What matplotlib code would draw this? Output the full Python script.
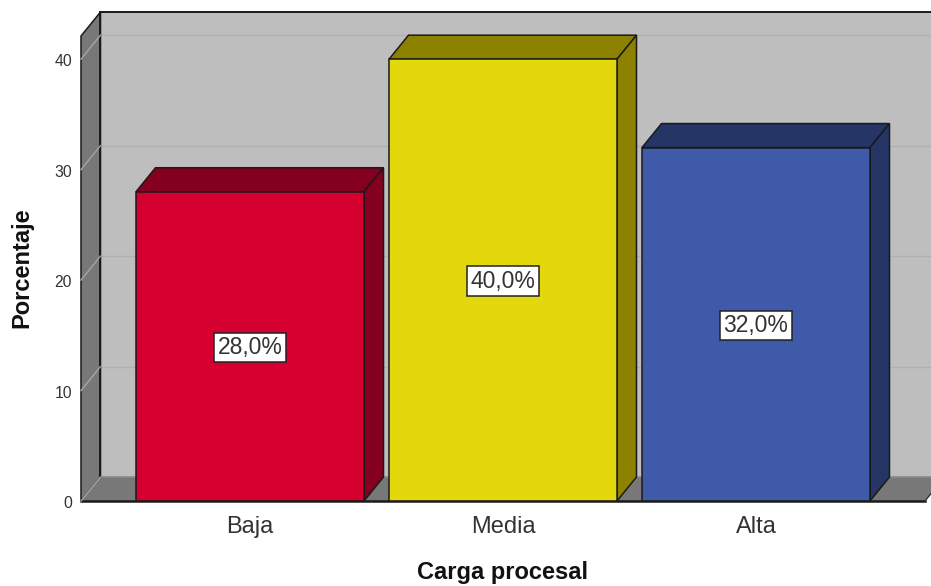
import matplotlib
matplotlib.use('Agg')
import matplotlib.pyplot as plt
from matplotlib.patches import Polygon
from matplotlib.transforms import ScaledTranslation

plt.rcParams['font.family'] = ['Liberation Sans', 'DejaVu Sans']

categories = ['Baja', 'Media', 'Alta']
percentages = [28.0, 40.0, 32.0]
bar_labels = ['28,0%', '40,0%', '32,0%']
y_ticks = [0, 10, 20, 30, 40]

front_colors = ['#D5002F', '#E3D80C', '#3E5AA8']
dark_colors = ['#850020', '#8C8200', '#253565']

W, H = 931, 586
fig = plt.figure(figsize=(W / 100, H / 100), dpi=100)
ax = fig.add_axes([81 / W, (H - 501) / H, 844 / W, 465 / H])

x0, x1 = -0.668, 2.668
y_top = 42.1
ax.set_xlim(x0, x1)
ax.set_ylim(0, y_top)

# depth of the fake 3d box, in data units
dx = 19.5 / 253
dy = 24 / 11.04
bar_w = 228 / 253
edge = '#1A1A1A'


def poly(pts, color, z, lw=1.1, ec=edge):
    ax.add_patch(Polygon(pts, closed=True, facecolor=color, edgecolor=ec,
                         linewidth=lw, zorder=z, clip_on=False, joinstyle='miter'))


# walls and floor
right = x1 + 2 * dx
poly([(x0 + dx, dy), (right, dy), (right, y_top + dy), (x0 + dx, y_top + dy)], '#BEBEBE', 1, lw=0)
poly([(x0, 0), (x0 + dx, dy), (x0 + dx, y_top + dy), (x0, y_top)], '#787878', 2)
poly([(x0, 0), (x1, 0), (x1 + dx, dy), (x0 + dx, dy)], '#787878', 2, lw=0)
ax.plot([x0, x1], [0, 0], color=edge, lw=1.8, zorder=3, clip_on=False)
ax.plot([x1, x1 + dx], [0, dy], color='#333333', lw=1.0, zorder=3, clip_on=False)
ax.plot([x0 + dx, right], [dy, dy], color='#8A8A8A', lw=1.2, zorder=3, clip_on=False)
ax.plot([x0 + dx, x0 + dx], [dy, y_top + dy], color=edge, lw=1.4, zorder=3, clip_on=False)
ax.plot([x0 + dx, right], [y_top + dy, y_top + dy], color=edge, lw=1.4, zorder=3, clip_on=False)

# gridlines on both walls
for t in y_ticks:
    ax.plot([x0, x0 + dx], [t, t + dy], color='#A5A5A5', lw=1.0, zorder=3, clip_on=False)
    if t > 0:
        ax.plot([x0 + dx, right], [t + dy, t + dy], color='#B0B0B0', lw=1.0, zorder=1.5, clip_on=False)

positions = range(len(categories))
for i, v in enumerate(percentages):
    left = i - bar_w / 2
    rgt = i + bar_w / 2
    poly([(left, v), (rgt, v), (rgt + dx, v + dy), (left + dx, v + dy)], dark_colors[i], 4)
    poly([(rgt, 0), (rgt + dx, dy), (rgt + dx, v + dy), (rgt, v)], dark_colors[i], 4)

bars = ax.bar(positions, percentages, width=bar_w, color=front_colors,
              edgecolor=edge, linewidth=1.1, zorder=5)

for b, lab in zip(bars, bar_labels):
    ax.text(b.get_x() + b.get_width() / 2, b.get_height() / 2 - 0.1, lab,
            ha='center', va='center', fontsize=16.5, color='#333333', zorder=6,
            bbox=dict(boxstyle='square,pad=0.14', fc='white', ec='#222222', lw=1.1))

ax.patch.set_visible(False)
for s in ax.spines.values():
    s.set_visible(False)

ax.set_yticks(y_ticks)
ax.set_xticks(list(positions))
ax.set_xticklabels(categories, fontsize=17, color='#333333')
ax.tick_params(axis='x', length=0, pad=11)
ax.tick_params(axis='y', length=0, pad=6.5, labelsize=11.3, labelcolor='#333333')
for lab in ax.get_yticklabels():
    lab.set_transform(lab.get_transform() + ScaledTranslation(0, -1 / 100, fig.dpi_scale_trans))

fig.text(502.5 / W, (H - 572.5) / H, 'Carga procesal', fontsize=17, fontweight='bold',
         ha='center', va='center', color='#111111')
fig.text(22 / W, (H - 268) / H, 'Porcentaje', fontsize=17, fontweight='bold',
         rotation=90, ha='center', va='center', color='#111111')

fig.savefig('out.png', dpi=100)
